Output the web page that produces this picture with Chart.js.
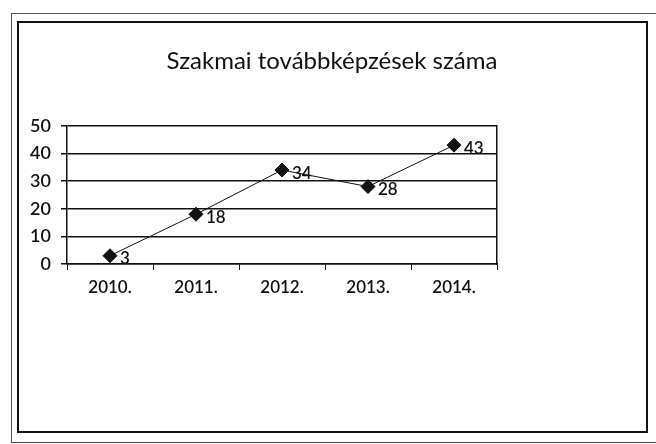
<!DOCTYPE html>
<html>
<head>
<meta charset="utf-8">
<script src="https://cdn.jsdelivr.net/npm/chart.js@4.4.1/dist/chart.umd.min.js"></script>
<style>
  html, body { margin: 0; padding: 0; background: #fff; }
  body { width: 656px; height: 444px; position: relative; overflow: hidden; }
  #outer { position: absolute; left: 11px; top: 13px; width: 660px; height: 428px;
           border-left: 1px solid #555; border-top: 1px solid #555; border-bottom: 1px solid #444; }
  #inner { position: absolute; left: 17px; top: 21px; width: 627px; height: 408px;
           border: 2px solid #111; }
  #wrap { position: absolute; left: 19px; top: 23px; width: 626px; height: 407px; }
</style>
</head>
<body>
<div id="outer"></div>
<div id="inner"></div>
<div id="wrap"><canvas id="chart"></canvas></div>
<script>
// chart data
const years = ['2010.', '2011.', '2012.', '2013.', '2014.'];
const counts = [3, 18, 34, 28, 43];
const yMin = 0;
const yMax = 50;
const yStep = 10;

const fontName = 'Lato, "Liberation Sans", sans-serif';

// value labels drawn to the right of each point
const valueLabels = {
    id: 'valueLabels',
    afterDatasetsDraw(chart) {
        const ctx = chart.ctx;
        const meta = chart.getDatasetMeta(0);
        ctx.save();
        ctx.fillStyle = '#111';
        ctx.font = '600 17px ' + fontName;
        ctx.textAlign = 'left';
        ctx.textBaseline = 'middle';
        meta.data.forEach((pt, i) => {
            ctx.fillText(String(counts[i]), pt.x + 10, pt.y + 3);
        });
        ctx.restore();
    }
};

const ctx = document.getElementById('chart').getContext('2d');
const chart = new Chart(ctx, {
    type: 'line',
    data: {
        labels: years,
        datasets: [{
            label: 'Szakmai továbbképzések száma',
            data: counts,
            borderColor: '#111',
            borderWidth: 1,
            backgroundColor: '#111',
            pointStyle: 'rectRot',
            pointRadius: 7,
            pointBackgroundColor: '#111',
            pointBorderColor: '#111',
            fill: false,
            tension: 0
        }]
    },
    options: {
        responsive: true,
        maintainAspectRatio: false,
        animation: false,
        layout: { padding: 0 },
        plugins: {
            legend: { display: false },
            tooltip: { enabled: false },
            title: {
                display: true,
                text: 'Szakmai továbbképzések száma',
                color: '#111',
                font: { family: fontName, size: 24, weight: 'normal' },
                padding: { top: 24, bottom: 50 }
            }
        },
        scales: {
            x: {
                offset: true,
                grid: {
                    display: true,
                    offset: true,
                    drawOnChartArea: false,
                    drawTicks: true,
                    tickLength: 6,
                    color: '#111',
                    lineWidth: 1
                },
                border: { display: true, color: '#111', width: 1.5 },
                ticks: {
                    color: '#111',
                    padding: 7,
                    font: { family: fontName, size: 17, weight: '600' }
                },
                afterFit(scale) { scale.height = 166; }
            },
            y: {
                min: yMin,
                max: yMax,
                ticks: {
                    stepSize: yStep,
                    color: '#111',
                    padding: 10,
                    font: { family: fontName, size: 18, weight: '600' }
                },
                grid: {
                    color: '#111',
                    lineWidth: 1.5,
                    tickLength: 6
                },
                border: { display: true, color: '#111', width: 1.5 },
                afterFit(scale) { scale.width = 48; }
            },
            yRight: {
                position: 'right',
                min: yMin,
                max: yMax,
                ticks: { display: false },
                grid: { display: false },
                border: { display: true, color: '#111', width: 1.5 },
                afterFit(scale) { scale.width = 148; }
            }
        }
    },
    plugins: [valueLabels]
});
</script>
</body>
</html>
